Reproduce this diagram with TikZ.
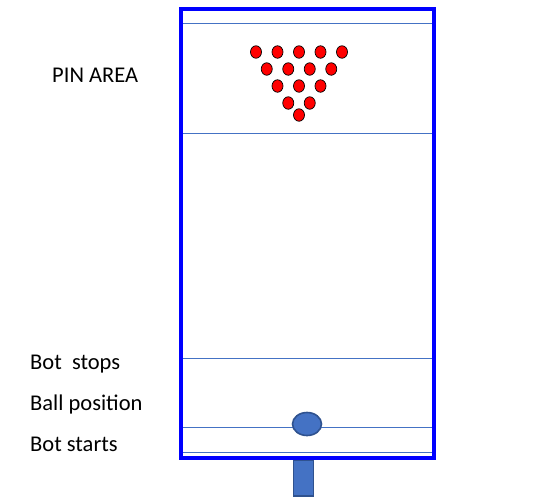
\documentclass[tikz,border=0pt]{standalone}
\usepackage{fontspec}
\setmainfont{Carlito}
\usetikzlibrary{shapes.geometric}
\definecolor{lineblue}{HTML}{4472C4}
\definecolor{darkblue}{HTML}{2F528F}

\begin{document}
\begin{tikzpicture}[x=1pt, y=-1pt,
  label/.style={anchor=base west, inner sep=0pt, font=\fontsize{22.5}{27}\selectfont},
  mark line/.style={lineblue, line width=0.9pt},
  pin/.style={ellipse, draw=black, fill=red, line width=0.7pt, inner sep=0pt,
    minimum width=11pt, minimum height=12.5pt},
  ball/.style={ellipse, draw=darkblue, fill=lineblue, line width=1.6pt, inner sep=0pt,
    minimum width=29pt, minimum height=23pt},
  bot/.style={draw=darkblue, fill=lineblue, line width=1.6pt, inner sep=0pt,
    minimum width=20pt, minimum height=36pt, anchor=north}]
  \useasboundingbox (0,0) rectangle (546,499);
  % lane corners
  \coordinate (NW) at (181,9);
  \coordinate (SE) at (434,458);
  % marker lines across the lane
  \foreach \name/\y in {top/23, pinend/133, stop/358, ballpos/427, start/452} {
    \coordinate (\name W) at (181,\y);
    \coordinate (\name E) at (434,\y);
    \draw[mark line] (\name W) -- (\name E);
  }
  % pins, back row first
  \foreach \row/\n/\y in {1/5/52, 2/4/69, 3/3/86, 4/2/103, 5/1/115} {
    \foreach \k in {1,...,\n} {
      \node[pin] (pin-\row-\k) at ({299+21.5*(\k-1)-10.75*(\n-1)},\y) {};
    }
  }
  % ball and bot
  \node[ball] (ball) at (307,424) {};
  \node[bot] (bot) at (303.5,459) {};
  \draw[blue, line width=3.5pt] (NW) rectangle (SE);
  % labels
  \node[label] (pinarea) at (52,82) {PIN AREA};
  \node[label] (botstops) at (30,369) {Bot\ \ stops};
  \node[label] (ballposition) at (30,410) {Ball position};
  \node[label] (botstarts) at (30,451) {Bot starts};
\end{tikzpicture}
\end{document}
